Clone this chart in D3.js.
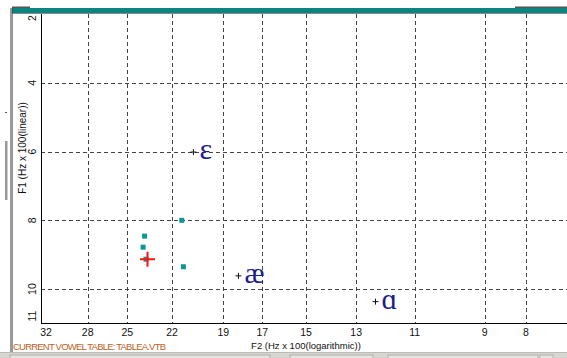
<!DOCTYPE html>
<html><head><meta charset="utf-8">
<script src="https://cdn.jsdelivr.net/npm/d3@7"></script>
<style>html,body{margin:0;padding:0;background:#fff;overflow:hidden}</style>
</head><body>
<script>
// ---- data ----
const xTicks = [32, 28, 25, 22, 19, 17, 15, 13, 11, 9, 8];
const yTicks = [2, 4, 6, 8, 10, 11];
const yGrid = [4, 6, 8, 10];
const vowelSymbols = ["ɛ", "æ", "ɑ"];
const vowelF2 = [20.7, 18.2, 12.3];
const vowelF1 = [6.0, 9.6, 10.35];
const measF2 = [23.8, 23.9, 21.4, 21.3, 23.7];
const measF1 = [8.46, 8.78, 8.0, 9.35, 9.13];
const meanF2 = [23.6];
const meanF1 = [9.13];

const W = 567, H = 358;
const svg = d3.select("body").append("svg").attr("width", W).attr("height", H)
  .style("font-family", "'Liberation Sans', Arial, sans-serif");

const x = d3.scaleLog().domain([32, 8]).range([41, 526]);
const y = d3.scaleLinear().domain([2, 11]).range([14, 323.5]);
const pLeft = 41, pTop = 14, pBottom = 323, pRight = W;

// window chrome
svg.append("rect").attr("x", 12).attr("y", 8).attr("width", W - 12).attr("height", 5).attr("fill", "#0b8580");
svg.append("rect").attr("x", 12).attr("y", 6.5).attr("width", 18).attr("height", 1.5).attr("fill", "#555");
svg.append("rect").attr("x", 515).attr("y", 6.5).attr("width", 52).attr("height", 1.5).attr("fill", "#555");
svg.append("line").attr("x1", 12).attr("x2", W).attr("y1", 13.5).attr("y2", 13.5).attr("stroke", "#8a8a8a");
svg.append("line").attr("x1", 10.5).attr("x2", 10.5).attr("y1", 8).attr("y2", 352).attr("stroke", "#9a9a9a");
svg.append("line").attr("x1", 12).attr("x2", 12).attr("y1", 8).attr("y2", 352).attr("stroke", "#333");
svg.append("rect").attr("x", 5).attr("y", 141).attr("width", 2.5).attr("height", 59).attr("fill", "#999");
svg.append("rect").attr("x", 5).attr("y", 112).attr("width", 2).attr("height", 1).attr("fill", "#555");
svg.append("rect").attr("x", 0).attr("y", 352).attr("width", W).attr("height", 6).attr("fill", "#d8d6d0");
svg.append("line").attr("x1", 0).attr("x2", W).attr("y1", 352.5).attr("y2", 352.5).attr("stroke", "#bdbbb5");
[[10, 270], [290, 373], [388, 538], [540, 553]].forEach(([a, b]) => {
  svg.append("rect").attr("x", a).attr("y", 355).attr("width", b - a).attr("height", 4)
    .attr("fill", "#e6e4e0").attr("stroke", "#a8a6a0").attr("stroke-width", 0.8);
});

// grid
const gridColor = "#444";
svg.append("g").selectAll("line").data(xTicks.slice(1)).join("line")
  .attr("x1", d => Math.round(x(d)) + 0.5).attr("x2", d => Math.round(x(d)) + 0.5)
  .attr("y1", pTop).attr("y2", pBottom)
  .attr("stroke", gridColor).attr("stroke-dasharray", "4,3");
svg.append("g").selectAll("line").data(yGrid).join("line")
  .attr("x1", pLeft).attr("x2", pRight)
  .attr("y1", d => Math.round(y(d)) + 0.5).attr("y2", d => Math.round(y(d)) + 0.5)
  .attr("stroke", gridColor).attr("stroke-dasharray", "4,3");

// axes lines
svg.append("line").attr("x1", pLeft + 0.5).attr("x2", pLeft + 0.5).attr("y1", pTop).attr("y2", pBottom + 0.5).attr("stroke", "#000");
svg.append("line").attr("x1", pLeft).attr("x2", pRight).attr("y1", pBottom + 0.5).attr("y2", pBottom + 0.5).attr("stroke", "#000");

// x tick labels
svg.append("g").selectAll("text").data(xTicks).join("text")
  .attr("x", d => Math.max(x(d), 46)).attr("y", 336)
  .attr("text-anchor", "middle").attr("font-size", 10.5).attr("fill", "#111")
  .text(d => d);

// y tick labels (rotated)
svg.append("g").selectAll("text").data(yTicks).join("text")
  .attr("transform", d => `translate(35.5,${Math.min(Math.max(y(d), 18), 316)}) rotate(-90)`)
  .attr("text-anchor", "middle").attr("font-size", 10.5).attr("fill", "#111")
  .text(d => d);

// axis titles
svg.append("text").attr("transform", "translate(26,148) rotate(-90)")
  .attr("text-anchor", "middle").attr("font-size", 10).attr("fill", "#111")
  .text("F1 (Hz x 100(linear))");
svg.append("text").attr("x", 306).attr("y", 349)
  .attr("text-anchor", "middle").attr("font-size", 9.5).attr("fill", "#111")
  .text("F2 (Hz x 100(logarithmic))");
svg.append("text").attr("x", 13).attr("y", 349.5)
  .attr("font-size", 9.5).attr("fill", "#c0601c").attr("textLength", 153).attr("lengthAdjust", "spacing")
  .text("CURRENT VOWEL TABLE: TABLEA.VTB");

// measured points
svg.append("g").selectAll("rect").data(measF2.map((f, i) => [f, measF1[i]])).join("rect")
  .attr("x", d => x(d[0]) - 2.5).attr("y", d => y(d[1]) - 2.5)
  .attr("width", 5).attr("height", 5).attr("fill", "#0a9893");

// mean cross
svg.append("g").selectAll("path").data(meanF2.map((f, i) => [f, meanF1[i]])).join("path")
  .attr("d", d => { const cx = x(d[0]), cy = y(d[1]); return `M${cx - 7.5},${cy}H${cx + 7.5}M${cx},${cy - 7.5}V${cy + 7.5}`; })
  .attr("stroke", "#ff1212").attr("stroke-width", 2).attr("fill", "none");

// reference vowels
const vg = svg.append("g").selectAll("g").data(vowelSymbols.map((s, i) => [vowelF2[i], vowelF1[i], s])).join("g")
  .attr("transform", d => `translate(${x(d[0])},${y(d[1])})`);
vg.append("path").attr("d", "M-3,0.5H3M0,-2.5V3.5").attr("stroke", "#111").attr("stroke-width", 1);
vg.append("text").attr("x", 6).attr("y", 7.5).attr("font-size", 30)
  .attr("font-family", "'Liberation Serif', 'DejaVu Serif', serif").attr("fill", "#1c1c8c")
  .text(d => d[2]);
</script>
</body></html>
